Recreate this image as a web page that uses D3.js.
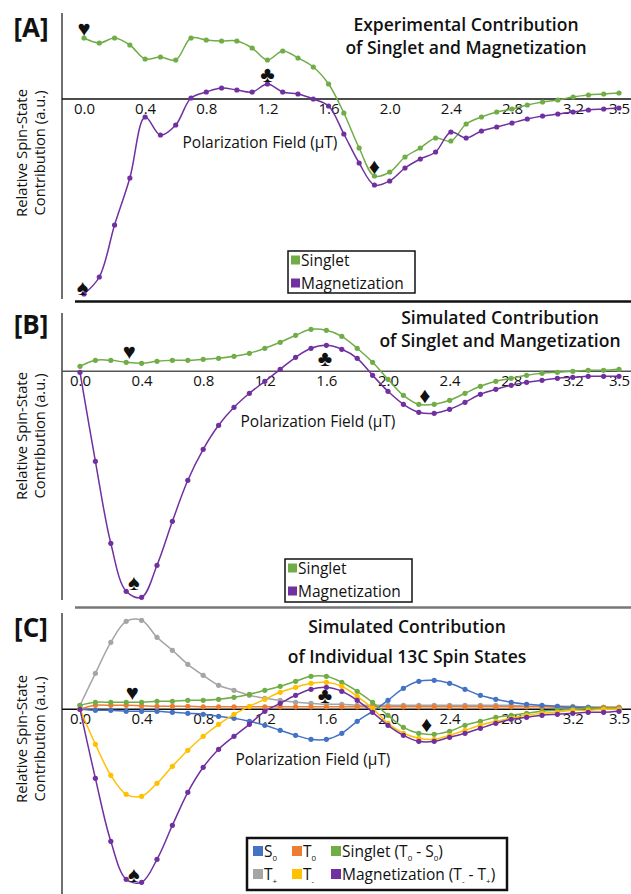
<!DOCTYPE html>
<html><head><meta charset="utf-8">
<script src="https://cdn.jsdelivr.net/npm/d3@7"></script>
<style>body{margin:0;background:#fff}svg{display:block}text{font-family:"Open Sans",sans-serif;fill:#111}</style>
</head><body><svg id="c" width="631" height="894"></svg>
<script>
// ---------- DATA ----------
const fields = [0.0,0.1,0.2,0.3,0.4,0.5,0.6,0.7,0.8,0.9,1.0,1.1,1.2,1.3,1.4,1.5,1.6,1.7,1.8,1.9,
  2.0,2.1,2.2,2.3,2.4,2.5,2.6,2.7,2.8,2.9,3.0,3.1,3.2,3.3,3.4,3.5];
const tickValues = [0.0,0.4,0.8,1.2,1.6,2.0,2.4,2.8,3.2,3.5];
const tickLabels = ["0.0","0.4","0.8","1.2","1.6","2.0","2.4","2.8","3.2","3.5"];

// Panel A – experimental
const expSinglet = [0.61,0.56,0.61,0.54,0.40,0.42,0.39,0.61,0.59,0.58,
  0.58,0.51,0.39,0.48,0.41,0.32,0.15,-0.14,-0.49,-0.77,
  -0.73,-0.58,-0.49,-0.39,-0.42,-0.25,-0.18,-0.13,-0.10,-0.06,
  -0.03,-0.01,0.02,0.04,0.05,0.06];
const expMagnetization = [-1.95,-1.78,-1.26,-0.79,-0.18,-0.36,-0.26,0.01,0.07,0.11,
  0.09,0.07,0.15,0.07,0.05,0.00,-0.07,-0.35,-0.64,-0.86,
  -0.82,-0.69,-0.60,-0.53,-0.33,-0.39,-0.32,-0.28,-0.24,-0.20,
  -0.17,-0.15,-0.13,-0.11,-0.10,-0.09];

// Panel B – simulated
const simSinglet = [0.05,0.11,0.11,0.09,0.08,0.10,0.11,0.11,0.12,0.13,
  0.15,0.18,0.23,0.29,0.36,0.42,0.41,0.35,0.23,0.09,
  -0.08,-0.24,-0.33,-0.33,-0.29,-0.22,-0.15,-0.10,-0.07,-0.04,
  -0.02,-0.01,0.00,0.01,0.01,0.02];
const simMagnetization = [-0.01,-0.90,-1.72,-2.20,-2.26,-1.94,-1.50,-1.09,-0.78,-0.54,
  -0.36,-0.22,-0.10,0.02,0.14,0.23,0.26,0.22,0.13,-0.04,
  -0.20,-0.33,-0.41,-0.42,-0.38,-0.31,-0.23,-0.18,-0.14,-0.11,
  -0.09,-0.07,-0.06,-0.05,-0.05,-0.05];

// Panel C – individual spin states
const stateS0 = [0,-0.01,-0.01,-0.02,-0.02,-0.02,-0.03,-0.04,-0.05,-0.07,
  -0.09,-0.12,-0.16,-0.21,-0.26,-0.30,-0.30,-0.24,-0.12,-0.02,
  0.09,0.21,0.28,0.29,0.26,0.20,0.14,0.10,0.07,0.05,
  0.04,0.03,0.02,0.02,0.01,0.01];
const stateT0 = [0,0.04,0.04,0.04,0.035,0.03,0.03,0.03,0.025,0.025,
  0.025,0.025,0.025,0.025,0.025,0.025,0.025,0.025,0.025,0.025,
  0.025,0.025,0.025,0.025,0.025,0.025,0.025,0.025,0.025,0.025,
  0.025,0.02,0.02,0.02,0.02,0.02];
const stateSinglet = [0.04,0.07,0.07,0.07,0.07,0.08,0.08,0.09,0.09,0.10,
  0.12,0.15,0.19,0.23,0.28,0.33,0.33,0.27,0.18,0.07,
  -0.06,-0.18,-0.24,-0.25,-0.22,-0.16,-0.12,-0.08,-0.06,-0.04,
  -0.02,-0.01,0.00,0.01,0.01,0.01];
const stateTplus = [0.04,0.36,0.67,0.88,0.89,0.72,0.59,0.45,0.34,0.24,
  0.19,0.14,0.11,0.09,0.07,0.06,0.05,0.05,0.04,0.04,
  0.04,0.04,0.04,0.04,0.04,0.04,0.04,0.04,0.04,0.03,
  0.03,0.03,0.03,0.02,0.02,0.02];
const stateTminus = [0,-0.35,-0.66,-0.85,-0.87,-0.74,-0.57,-0.41,-0.27,-0.15,
  -0.05,0.03,0.10,0.17,0.22,0.26,0.27,0.23,0.13,0.01,
  -0.14,-0.24,-0.29,-0.30,-0.26,-0.21,-0.16,-0.12,-0.09,-0.06,
  -0.04,-0.03,-0.01,-0.01,0,0];
const stateMagnetization = [0,-0.69,-1.32,-1.70,-1.73,-1.50,-1.16,-0.83,-0.58,-0.40,
  -0.27,-0.15,-0.02,0.06,0.14,0.20,0.22,0.18,0.09,-0.03,
  -0.16,-0.26,-0.32,-0.32,-0.28,-0.24,-0.19,-0.14,-0.10,-0.08,
  -0.06,-0.05,-0.04,-0.03,-0.03,-0.02];

// card-suit annotations (field, value)
const suitsA = [["♥",0.0,0.72],["♣",1.2,0.26],["♦",1.9,-0.66],["♠",-0.01,-1.87]];
const suitsB = [["♥",0.32,0.21],["♣",1.59,0.14],["♦",2.24,-0.23],["♠",0.35,-2.10]];
const suitsC = [["♥",0.34,0.18],["♣",1.59,0.15],["♦",2.25,-0.14],["♠",0.35,-1.64]];

const titlesA = ["Experimental Contribution","of Singlet and Magnetization"];
const titlesB = ["Simulated Contribution","of Singlet and Mangetization"];
const titlesC = ["Simulated Contribution","of Individual 13C Spin States"];

const C = {S0:"#4472c4",T0:"#ed7d31",singlet:"#70ad47",Tplus:"#a5a5a5",Tminus:"#ffc000",mag:"#7030a0"};

// ---------- DRAW ----------
const svg = d3.select("#c");

function panel(cfg){
  const g = svg.append("g");
  const x = d3.scaleLinear().domain([0,3.5]).range(cfg.xr);
  const y = d3.scaleLinear().domain(cfg.yd).range(cfg.yr);
  g.append("line").attr("x1",62).attr("x2",62).attr("y1",cfg.vline[0]).attr("y2",cfg.vline[1])
    .attr("stroke","#222").attr("stroke-width",1.3);
  g.append("text").attr("x",31).attr("y",cfg.labelY).attr("text-anchor","middle")
    .attr("font-size",26).attr("font-weight",700).text(cfg.label);
  const yt = g.append("text").attr("transform",`translate(27,${cfg.ytY}) rotate(-90)`)
    .attr("text-anchor","middle").attr("font-size",14.8);
  yt.append("tspan").attr("x",0).attr("dy",0).text("Relative Spin-State");
  yt.append("tspan").attr("x",0).attr("dy",17.5).text("Contribution (a.u.)");
  cfg.titles.forEach((t,i)=>g.append("text").attr("x",cfg.titleX).attr("y",cfg.titleY[i])
    .attr("text-anchor","middle").attr("font-size",17.5).attr("font-weight",600).text(t));
  const y0 = y(0);
  g.append("line").attr("x1",62).attr("x2",631).attr("y1",y0).attr("y2",y0)
    .attr("stroke",cfg.zeroColor).attr("stroke-width",1.5);
  const ax = d3.axisBottom(x).tickValues(tickValues).tickFormat((d,i)=>tickLabels[i]).tickSize(0).tickPadding(4);
  const axg = g.append("g").attr("transform",`translate(0,${y0})`).call(ax);
  axg.select(".domain").remove();
  axg.selectAll("text").attr("font-size",15).attr("font-family","'Open Sans',sans-serif").attr("fill","#111");
  g.append("text").attr("x",cfg.xtX).attr("y",cfg.xtY).attr("text-anchor","middle")
    .attr("font-size",15.5).text("Polarization Field (μT)");
  const line = d3.line().x((d,i)=>x(fields[i])).y(d=>y(d)).curve(d3.curveCatmullRom.alpha(0.5));
  cfg.series.forEach(s=>{
    g.append("path").datum(s.values).attr("d",line).attr("fill","none")
      .attr("stroke",s.color).attr("stroke-width",1.5);
    g.append("g").selectAll("circle").data(s.values).join("circle")
      .attr("cx",(d,i)=>x(fields[i])).attr("cy",d=>y(d)).attr("r",2.6).attr("fill",s.color);
  });
  cfg.suits.forEach(s=>g.append("text").attr("x",x(s[1])).attr("y",y(s[2]))
    .attr("text-anchor","middle").attr("dominant-baseline","central")
    .attr("font-family","DejaVu Sans").attr("font-size",22).style("fill","#111").text(s[0]));
  return g;
}

function legend2(g, box){
  g.append("rect").attr("x",box[0]).attr("y",box[1]).attr("width",box[2]).attr("height",box[3])
    .attr("fill","#fff").attr("stroke","#111").attr("stroke-width",1.5);
  [["Singlet",C.singlet],["Magnetization",C.mag]].forEach((e,i)=>{
    const yy = box[1]+ 9 + i*23;
    g.append("rect").attr("x",box[0]+3).attr("y",yy-4.5).attr("width",9).attr("height",9).attr("fill",e[1]);
    g.append("text").attr("x",box[0]+13).attr("y",yy).attr("dominant-baseline","central")
      .attr("font-size",15.5).text(e[0]);
  });
}

const gA = panel({label:"[A]",labelY:37,xr:[84,619],yd:[-2,0.9],yr:[299,9],vline:[13,299],ytY:153,
  titles:titlesA,titleX:466,titleY:[31,54],zeroColor:"#111",xtX:260,xtY:148,
  series:[{values:expSinglet,color:C.singlet},{values:expMagnetization,color:C.mag}],suits:suitsA});
legend2(gA,[288,251,127,42]);
svg.append("line").attr("x1",75).attr("x2",631).attr("y1",301.5).attr("y2",301.5).attr("stroke","#111").attr("stroke-width",2.5);

const gB = panel({label:"[B]",labelY:334,xr:[80,619],yd:[-2.3,0.6],yr:[601.3,311.3],vline:[313,600],ytY:436,
  titles:titlesB,titleX:500,titleY:[324,347],zeroColor:"#555",xtX:318,xtY:427,
  series:[{values:simSinglet,color:C.singlet},{values:simMagnetization,color:C.mag}],suits:suitsB});
legend2(gB,[285,559,127,43]);
svg.append("line").attr("x1",75).attr("x2",631).attr("y1",607.5).attr("y2",607.5).attr("stroke","#777").attr("stroke-width",2.5);

const gC = panel({label:"[C]",labelY:637,xr:[80,619],yd:[-1.8,0.95],yr:[889.3,614.3],vline:[613,894],ytY:739,
  titles:titlesC,titleX:407,titleY:[633,663],zeroColor:"#111",xtX:313,xtY:765,
  series:[{values:stateTplus,color:C.Tplus},{values:stateT0,color:C.T0},{values:stateS0,color:C.S0},
          {values:stateSinglet,color:C.singlet},{values:stateTminus,color:C.Tminus},{values:stateMagnetization,color:C.mag}],
  suits:suitsC});

// legend C
(function(){
  const bx=247, by=838, bw=260, bh=52;
  gC.append("rect").attr("x",bx).attr("y",by).attr("width",bw).attr("height",bh)
    .attr("fill","#fff").attr("stroke","#111").attr("stroke-width",2.5);
  const items = [
    [C.S0,"S","0",""],[C.T0,"T","0",""],[C.singlet,"Singlet (T","0"," - S", "0", ")"],
    [C.Tplus,"T","+",""],[C.Tminus,"T","-",""],[C.mag,"Magnetization (T","-"," - T","+",")"]];
  const cols=[255,294,333];
  items.forEach((it,k)=>{
    const col=k%3,row=Math.floor(k/3);
    const xx=cols[col], yy=by+13+row*23;
    gC.append("rect").attr("x",xx-2).attr("y",yy-5).attr("width",10).attr("height",10).attr("fill",it[0]);
    const t=gC.append("text").attr("x",xx+9).attr("y",yy).attr("dominant-baseline","central").attr("font-size",15.5);
    t.append("tspan").text(it[1]);
    t.append("tspan").attr("font-size",8).attr("dy",6).text(it[2]);
    if(it.length>4){
      t.append("tspan").attr("dy",-6).text(it[3]);
      t.append("tspan").attr("font-size",8).attr("dy",6).text(it[4]);
      t.append("tspan").attr("dy",-6).text(it[5]);
    }
  });
})();
</script></body></html>
